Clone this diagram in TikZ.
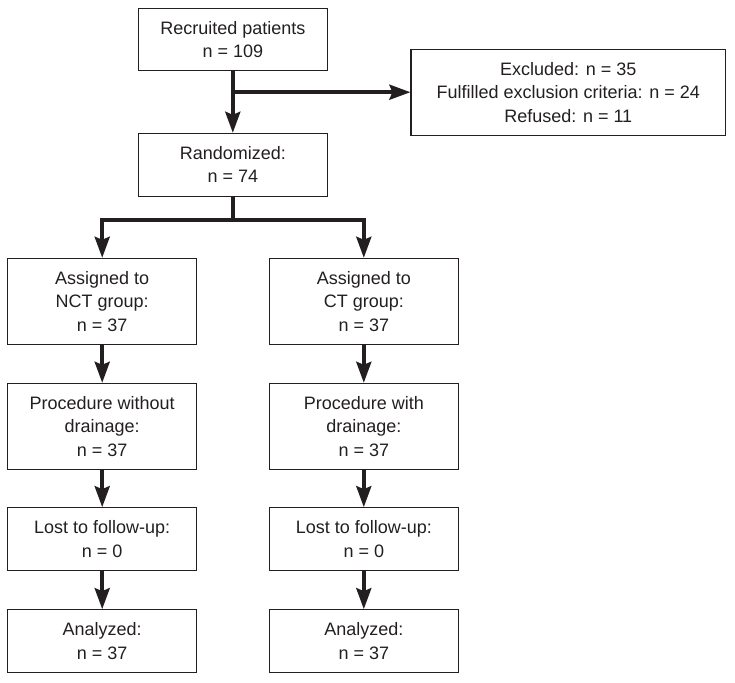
\documentclass[tikz,border=0pt]{standalone}
\usepackage{fontspec}
\setmainfont{Liberation Sans}
\usetikzlibrary{arrows.meta}
\definecolor{ink}{RGB}{35,31,32}
\begin{document}
\begin{tikzpicture}[x=1pt,y=1pt,
  box/.style={draw=ink,line width=1.1pt,text=ink,align=center,inner sep=0pt,
    font=\fontsize{18}{23.5}\selectfont},
  narrowbox/.style={box,minimum width=189pt},
  arr/.style={draw=ink,line width=3.6pt,-{Stealth[length=21pt,width=15pt,inset=3pt]}},
  link/.style={draw=ink,line width=3.6pt}]
\useasboundingbox (0,0) rectangle (735,-682);
\node[narrowbox,minimum height=62.4pt] (rec) at (232.8,-39.5) {Recruited patients\\n = 109};
\node[box,minimum width=314.7pt,minimum height=85.7pt] (exc) at (568.3,-92.2) {Excluded: n = 35\\Fulfilled exclusion criteria: n = 24\\Refused: n = 11};
\node[narrowbox,minimum height=62.7pt] (rand) at (232.8,-164.7) {Randomized:\\n = 74};
\node[narrowbox,minimum height=85.7pt] (nct) at (102.2,-301.2) {Assigned to\\NCT group:\\n = 37};
\node[narrowbox,minimum height=85.7pt] (ct) at (363.8,-301.2) {Assigned to\\CT group:\\n = 37};
\node[narrowbox,minimum height=85.7pt] (pnct) at (102.2,-426.2) {Procedure without\\drainage:\\n = 37};
\node[narrowbox,minimum height=85.7pt] (pct) at (363.8,-426.2) {Procedure with\\drainage:\\n = 37};
\node[narrowbox,minimum height=63pt] (lnct) at (102.2,-539.2) {Lost to follow-up:\\n = 0};
\node[narrowbox,minimum height=63pt] (lct) at (363.8,-539.2) {Lost to follow-up:\\n = 0};
\node[narrowbox,minimum height=62.6pt] (anct) at (102.2,-641) {Analyzed:\\n = 37};
\node[narrowbox,minimum height=62.6pt] (act) at (363.8,-641) {Analyzed:\\n = 37};
\coordinate (ex) at (rec.south |- exc.west);
\path (rand.south) ++(0,-23.3) coordinate (br);
\draw[arr] (rec.south) -- (rand.north);
\draw[arr] (ex) -- (exc.west);
\draw[arr] (rand.south) -- (br) -| (nct.north);
\draw[arr] (rand.south) -- (br) -| (ct.north);
\draw[arr] (nct.south) -- (pnct.north);
\draw[arr] (ct.south) -- (pct.north);
\draw[arr] (pnct.south) -- (lnct.north);
\draw[arr] (pct.south) -- (lct.north);
\draw[arr] (lnct.south) -- (anct.north);
\draw[arr] (lct.south) -- (act.north);
\end{tikzpicture}
\end{document}
